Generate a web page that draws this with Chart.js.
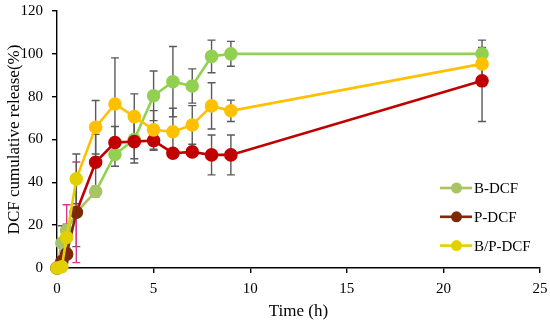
<!DOCTYPE html>
<html>
<head>
<meta charset="utf-8">
<script src="https://cdn.jsdelivr.net/npm/chart.js@4.4.1/dist/chart.umd.min.js"></script>
<style>
  html, body { margin: 0; padding: 0; background: #fff; }
  #wrap { width: 550px; height: 322px; position: relative; }
</style>
</head>
<body>
<div id="wrap"><canvas id="chart"></canvas></div>
<script>
// sampling times (h)
const times = [0, 0.25, 0.5, 1, 2, 3, 4, 5, 6, 7, 8, 9, 22];

// cumulative release (%) and error (+/-) per formulation
const bDcf = [0, 11.7, 17.5, 26, 35.7, 53, 60, 80.4, 87, 85, 98.8, 100, 100];
const bDcfErr = [0, 8, 3, 16, 2.5, 5.5, 9, 11.6, 16.4, 8, 7.6, 5.8, 3];

const pDcf = [0, 3, 6.5, 26, 49.4, 58.6, 59, 59.5, 53.6, 54.2, 52.8, 52.8, 87.4];
const pDcfErr = [0, 2, 23, 23.5, 13, 7.5, 10, 4.5, 2, 2, 9.3, 9.3, 19];

const bpDcf = [0, 0.6, 14.3, 41.6, 65.7, 76.6, 70.7, 64.5, 63.6, 66.8, 75.7, 73.4, 95.3];
const bpDcfErr = [0, 1, 5, 11.6, 12.5, 21.5, 10.6, 9, 11, 9, 10.8, 5, 7.6];

const xTicks = [0, 5, 10, 15, 20, 25];
const yTicks = [0, 20, 40, 60, 80, 100, 120];

const FONT = "'Liberation Serif', 'Times New Roman', serif";

const toPoints = (ys) => times.map((t, i) => ({ x: t, y: ys[i] }));

// early points were drawn in a slightly different shade in the original
function makeSeries(label, ys, errs, main, early, earlyCount, errEarly) {
  return {
    label: label,
    data: toPoints(ys),
    errors: errs,
    errColors: ys.map((_, i) => (errEarly && i < 4 ? errEarly : "#5a5a5a")),
    legendColor: early,
    borderColor: main,
    backgroundColor: main,
    pointBackgroundColor: ys.map((_, i) => (i < earlyCount ? early : main)),
    pointBorderColor: ys.map((_, i) => (i < earlyCount ? early : main)),
    segment: {
      borderColor: (ctx) => (ctx.p0DataIndex < earlyCount - 1 ? early : main),
    },
    borderWidth: 2.6,
    pointRadius: 5.5,
    pointHoverRadius: 5.5,
    tension: 0,
    clip: false,
  };
}

const errorBars = {
  id: "errorBars",
  beforeDatasetsDraw(chart) {
    const { ctx, scales } = chart;
    const yMin = scales.y.min;
    ctx.save();
    ctx.lineWidth = 1.4;
    chart.data.datasets.forEach((ds) => {
      ds.data.forEach((p, i) => {
        const e = ds.errors[i];
        if (!e) return;
        const x = scales.x.getPixelForValue(p.x);
        const lo = p.y - e;
        const yTop = scales.y.getPixelForValue(p.y + e);
        const yBot = scales.y.getPixelForValue(Math.max(lo, yMin));
        ctx.strokeStyle = ds.errColors[i];
        ctx.beginPath();
        ctx.moveTo(x, yTop);
        ctx.lineTo(x, yBot);
        ctx.moveTo(x - 4, yTop);
        ctx.lineTo(x + 4, yTop);
        if (lo >= yMin) {
          ctx.moveTo(x - 4, yBot);
          ctx.lineTo(x + 4, yBot);
        }
        ctx.stroke();
      });
    });
    ctx.restore();
  },
};

const sideLegend = {
  id: "sideLegend",
  afterDraw(chart) {
    const { ctx, chartArea } = chart;
    const x0 = chartArea.right - 100;
    const y0 = chartArea.top + 177;
    const gap = 28.8;
    ctx.save();
    ctx.font = "15px " + FONT;
    ctx.textBaseline = "middle";
    ctx.textAlign = "left";
    chart.data.datasets.forEach((ds, i) => {
      const y = y0 + i * gap;
      ctx.strokeStyle = ds.legendColor;
      ctx.lineWidth = 2.6;
      ctx.beginPath();
      ctx.moveTo(x0, y);
      ctx.lineTo(x0 + 32, y);
      ctx.stroke();
      ctx.fillStyle = ds.legendColor;
      ctx.beginPath();
      ctx.arc(x0 + 16.5, y, 5.5, 0, Math.PI * 2);
      ctx.fill();
      ctx.fillStyle = "#000";
      ctx.fillText(ds.label, x0 + 34, y + 1);
    });
    ctx.restore();
  },
};

const datasets = [
  makeSeries("B-DCF", bDcf, bDcfErr, "#92D050", "#A9C466", 5, null),
  makeSeries("P-DCF", pDcf, pDcfErr, "#C00000", "#7E2806", 4, "#D63A86"),
  makeSeries("B/P-DCF", bpDcf, bpDcfErr, "#FFC000", "#E2D000", 4, null),
];
datasets[0].order = 3;
datasets[1].order = 2;
datasets[2].order = 1;

new Chart(document.getElementById("chart").getContext("2d"), {
  type: "line",
  data: { datasets: datasets },
  plugins: [errorBars, sideLegend],
  options: {
    responsive: true,
    maintainAspectRatio: false,
    animation: false,
    layout: { padding: { top: 11, right: 10, left: 0, bottom: 0 } },
    plugins: {
      legend: { display: false },
      tooltip: { enabled: false },
    },
    scales: {
      x: {
        type: "linear",
        min: xTicks[0],
        max: xTicks[xTicks.length - 1],
        afterBuildTicks: (s) => { s.ticks = xTicks.map((v) => ({ value: v })); },
        ticks: { font: { family: FONT, size: 15 }, color: "#000", padding: 7 },
        grid: { display: true, drawOnChartArea: false, drawTicks: true, tickLength: 5, color: "#000", lineWidth: 1.4 },
        border: { display: true, color: "#000", width: 1.4 },
        title: { display: true, text: "Time (h)", font: { family: FONT, size: 17 }, color: "#000", padding: 0 },
        afterFit: (s) => { s.height = 54; s.paddingLeft = 0; s.paddingRight = 0; },
      },
      y: {
        min: yTicks[0],
        max: yTicks[yTicks.length - 1],
        afterBuildTicks: (s) => { s.ticks = yTicks.map((v) => ({ value: v })); },
        ticks: { font: { family: FONT, size: 15 }, color: "#000", padding: 9 },
        grid: { display: true, drawOnChartArea: false, drawTicks: true, tickLength: 5, color: "#000", lineWidth: 1.4 },
        border: { display: true, color: "#000", width: 1.4 },
        title: { display: true, text: "DCF cumulative release(%)", font: { family: FONT, size: 17 }, color: "#000", padding: { top: 4, bottom: 0 } },
        afterFit: (s) => { s.width = 57; s.paddingTop = 0; s.paddingBottom = 0; },
      },
    },
  },
});
</script>
</body>
</html>
